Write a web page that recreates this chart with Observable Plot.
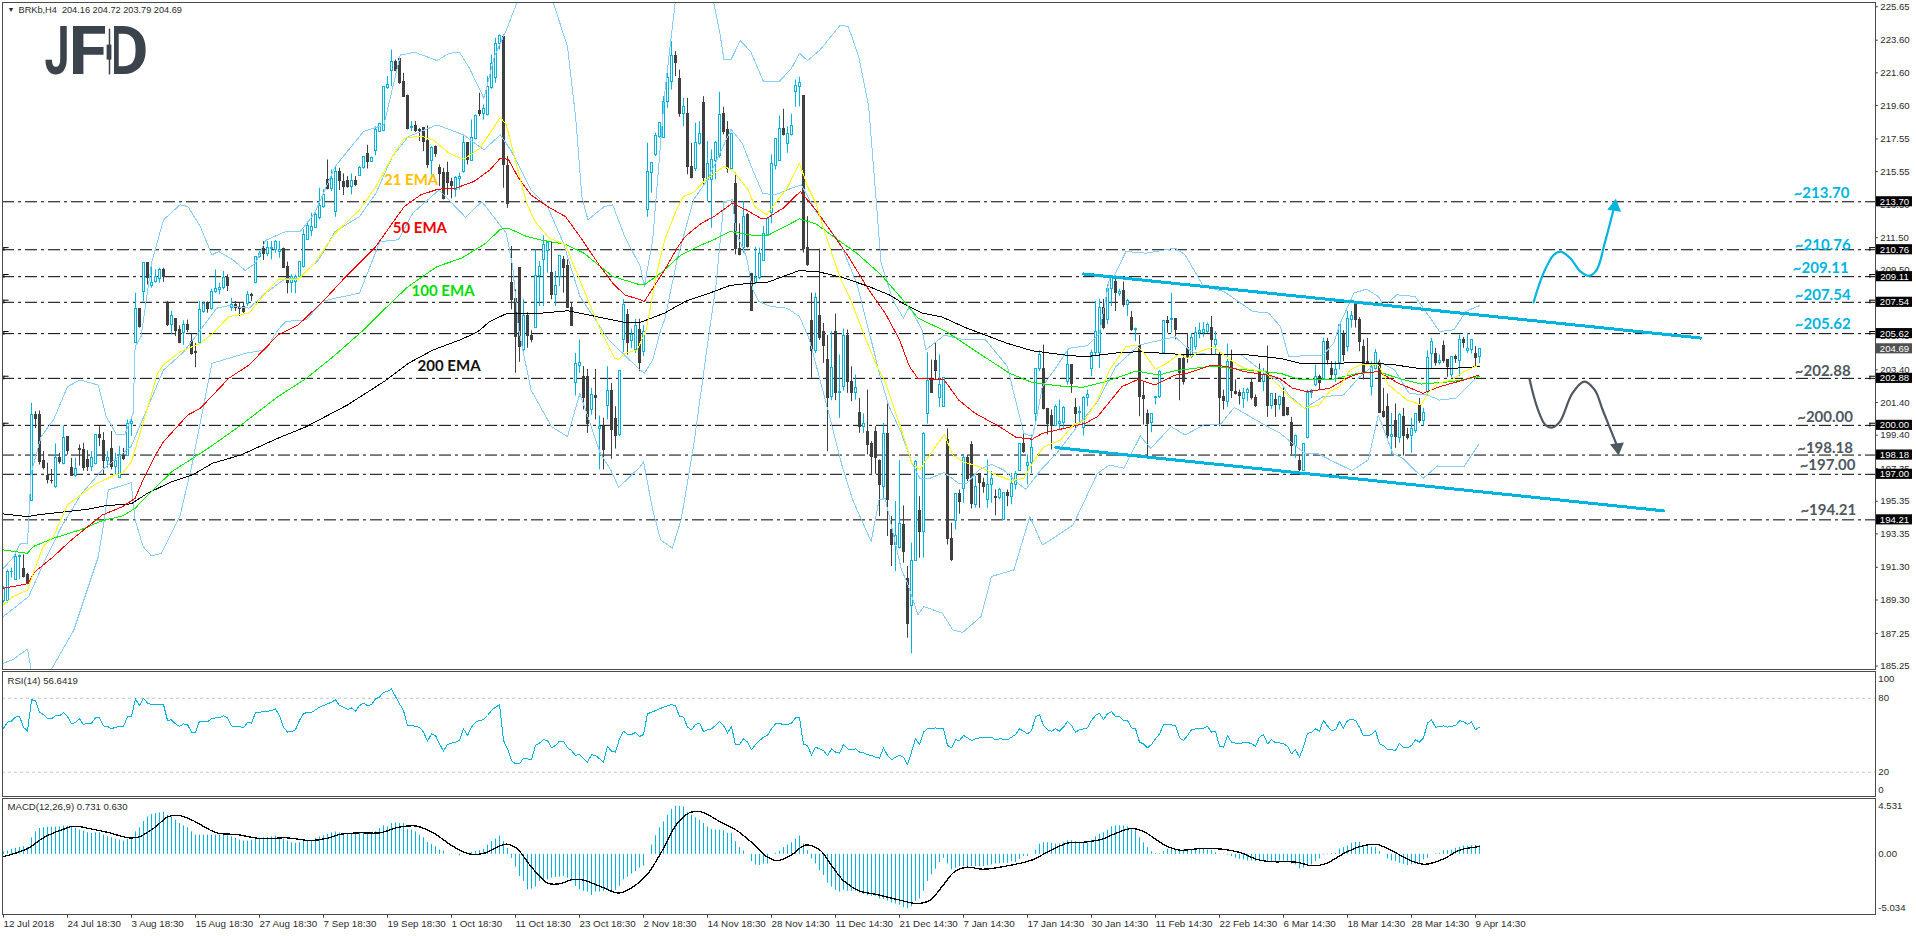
<!DOCTYPE html>
<html><head><meta charset="utf-8">
<script src="https://cdn.jsdelivr.net/npm/d3@7"></script>
<script src="https://cdn.jsdelivr.net/npm/@observablehq/plot@0.6"></script>
<style>html,body{margin:0;background:#fff;overflow:hidden}#main,#rsi,#macd{position:absolute;left:0}#main{top:0}#rsi{top:670px}#macd{top:797px}svg{display:block}</style>
</head><body><div id="main"></div><div id="rsi"></div><div id="macd"></div>
<script>
// candles, each row [open, high, low, close]
const candlesJul=[[189.21,190.13,189.11,190.02],[189.21,191.14,189.11,191.04],[191.0,191.25,190.64,191.04],[190.53,192.27,190.5,191.96],[191.92,192.06,190.53,192.02],[191.2,192.06,190.64,190.7],[190.84,190.94,190.23,190.29],[195.39,201.35,195.33,200.64],[200.62,200.84,199.8,200.37],[200.64,200.88,197.57,197.78],[197.82,198.39,197.27,197.37],[196.9,197.68,196.41,196.66],[196.62,197.3,196.41,196.58],[196.2,198.86,196.14,197.98],[198,198.29,197.62,197.74],[197.62,199.96,197.58,199.21],[199.27,199.27,198.19,198.43],[197.37,197.98,196.92,196.92],[196.92,197.98,196.82,197.31],[198.57,198.8,197.51,198.5],[198.49,198.9,197.2,197.37],[197.88,198.45,197.17,197.43],[197.47,198.39,197.17,197.98],[197.62,199.39,197.58,199.39],[199.39,199.92,198.7,199.21],[199.04,199.55,196.96,197.82],[197.84,198.39,197.37,197.98],[198.53,199.62,197.27,197.43],[197.47,198.29,196.96,197.84],[196.8,198.7,196.76,198.12],[198.12,198.59,197.84,197.92],[198.12,200.33,198.12,200.08],[200.1,200.37,199.31,200.18]];
const candlesAug=[[205.06,208.09,205.02,207.15],[207.11,207.11,205.95,206.05],[208.2,209.93,207.58,209.93],[209.93,209.93,208.6,209.02],[208.55,209.73,208.4,208.74],[208.76,209.53,208.71,209.08],[208.96,209.63,208.71,209.49],[209.49,209.63,208.76,209.08],[207.45,207.59,206.06,206.16],[206.16,206.98,205.55,206.71],[206.51,206.51,205.45,205.79],[205.86,206.1,205.0,205.06],[205.65,206.4,204.9,206.16],[206.16,206.45,205.68,205.86],[205.08,205.6,204.3,204.37],[204.48,205.02,203.53,204.44],[205.06,207.59,205.0,207.04],[206.97,207.55,206.87,207.44],[207.51,207.57,206.87,207.1],[207.1,208.34,207.06,208.16],[208.2,209.53,208.09,208.34],[208.3,208.71,208.0,208.44],[208.4,209.43,208.3,209.02],[209.0,209.22,208.2,208.55],[207.18,207.79,206.98,207.38],[207.38,207.59,206.98,207.18],[207.2,207.49,206.67,207.16],[207.24,207.53,206.77,206.97],[207.45,208.2,207.28,208.0],[208.0,208.1,207.59,207.92],[208.71,210.35,208.67,210.3],[210.3,210.65,210.24,210.49],[210.82,211.26,210.1,210.49],[210.51,211.26,210.35,210.86],[210.8,211.26,210.14,210.86],[210.75,211.32,210.55,211.26],[210.61,211.26,210.24,210.75],[210.82,210.86,209.63,209.67],[209.69,210.0,208.06,208.71],[208.71,209.22,208.1,209.06],[208.76,209.22,208.06,209.06],[209.06,210.04,209.02,210.0],[209.69,211.98,209.63,211.67],[211.37,212.49,211.33,212.24],[211.88,213.0,211.57,212.18],[212.12,213.1,212.08,212.9],[212.69,214.53,212.59,213.45],[213.37,214.43,213.3,214.12]];
const candlesSep=[[215.04,216.26,214.43,214.47],[214.47,215.65,214.32,215.08],[213.1,215.9,212.75,215.51],[215.51,215.75,214.39,214.98],[214.94,215.41,214.08,214.59],[214.98,215.24,214.53,214.63],[214.63,215.41,214.12,214.96],[214.96,215.24,214.63,214.73],[215.3,215.86,215.3,215.75],[215.75,216.47,215.69,216.43],[216.61,217.16,215.71,216.16],[216.16,216.43,216.12,216.37],[216.84,218.3,216.51,218.1],[218.0,218.51,217.96,218.47],[218.06,220.75,218.0,220.71],[220.65,221.37,220.59,220.86],[221.73,223.0,220.75,222.24],[222.24,222.39,221.67,221.73],[222.45,222.45,220.9,221.0],[221.04,221.57,220.1,220.14],[220.2,220.24,218.1,218.16],[218.2,218.61,218.0,218.26],[218.34,218.61,217.94,218.06],[218.1,218.2,217.39,218.02],[218.2,218.2,216.77,217.39],[217.45,218.34,215.75,215.96],[216.22,217.08,215.35,216.98],[217.04,217.12,216.43,216.63],[215.79,215.96,214.63,215.41],[215.49,215.75,213.81,213.86],[215.45,216.12,214.08,214.84],[214.9,215.14,213.88,214.69],[214.43,215.24,213.98,215.14],[215.1,215.45,214.43,215.24],[215.55,217.73,215.45,217.33],[217.33,217.33,215.96,216.26],[216.22,218.71,216.2,217.59],[217.53,219.02,217.49,218.96],[219.26,220.35,218.92,219.08],[219.08,219.63,218.71,219.37],[219.02,221.37,218.96,220.71],[220.65,222.69,220.59,222.12],[221.26,223.71,220.96,223.35],[223.35,223.92,223.0,223.86],[223.82,223.92,214.53,215.96],[215.9,216.47,213.3,213.57]];
const candlesOct=[[208.71,210.96,207.08,207.69],[207.75,208.3,203.19,205.39],[209.63,209.63,203.86,204.78],[204.62,207.69,204.31,206.67],[206.67,206.9,204.72,205.45],[205.45,205.8,205.06,205.23],[205.96,210.75,205.96,209.18],[209.16,210.04,207.28,209.73],[210.14,211.61,207.28,211.06],[210.71,211.26,209.32,211.16],[209.32,211.26,207.69,208.0],[208.0,209.43,207.28,208.51],[209.12,210.35,208.5,210.35],[210.14,210.35,208.1,209.63],[209.77,210.14,207.18,207.18],[207.18,207.49,206.06,206.06],[202.62,204.41,201.8,203.74],[203.66,205.23,203.19,203.8],[202.98,203.6,200.94,201.69],[202.98,203.43,199.51,200.08],[200.94,202.27,200.63,201.86],[201.82,203.43,200.33,201.66],[199.8,200.57,197.27,199.92],[199.88,200.43,197.27,198.49],[201.19,203.59,200.33,202.12],[202.12,202.57,197.92,199.72],[200.37,201.14,198.55,199.35],[199.41,203.33,199.31,203.33],[205.23,207.7,204.45,207.38],[206.77,207.1,204.3,205.02],[205.19,205.9,204.7,205.55],[204.62,206.5,204.4,206.06],[205.84,206.5,203.29,203.8]];
const candlesNov=[[204.51,206.1,204.2,205.74],[213.2,217.28,212.75,215.51],[215.45,216.06,214.22,216.06],[216.57,217.9,216.47,217.73],[217.65,218.51,217.59,218.51],[217.59,220.14,217.59,219.84],[219.84,221.57,219.43,221.26],[221.06,223.51,220.55,222.65],[222.63,222.9,221.37,222.22],[221.22,221.77,218.88,219.08],[219.08,220.04,218.31,219.53],[219.08,220.04,215.35,215.86],[215.82,217.28,215.1,215.18],[215.69,218.51,215.55,217.28],[217.24,218.61,217.18,217.84],[219.73,220.14,214.73,215.18],[215.04,217.39,213.71,216.0],[215.04,216.88,212.08,216.26],[216.22,217.39,215.04,217.28],[216.53,220.41,216.37,219.02],[219.06,219.49,217.8,218.0],[218.1,218.61,215.45,215.69],[215.69,217.9,215.65,217.84],[214.77,215.45,210.45,210.8],[210.8,212.35,210.39,210.41],[210.86,213.71,210.55,212.79],[212.9,213.0,210.86,210.92],[209.28,209.32,206.98,206.98],[208.71,210.92,208.61,209.02],[209.02,210.86,208.92,210.49],[210.1,212.18,210.04,211.71],[211.61,212.69,211.57,212.63],[213.0,216.57,212.35,216.0],[215.92,217.59,215.65,217.55],[216.22,218.96,216.16,218.14],[218.14,219.37,217.73,217.8],[217.24,218.3,216.67,217.84],[217.8,219.06,217.73,218.35],[220.45,221.16,219.49,220.8],[220.75,221.33,219.53,220.96],[220.18,220.18,210.55,210.8],[210.86,212.79,209.73,209.84]];
const candlesDec=[[206.37,208.1,202.88,204.57],[204.57,208.1,204.4,207.79],[206.67,210.8,205.2,205.34],[205.75,206.24,203.8,204.86],[204.0,205.5,198.39,201.69],[201.76,205.74,201.51,203.49],[205.74,206.82,201.51,201.96],[201.96,204.31,200.43,202.06],[202.33,205.9,202.1,205.47],[205.47,205.84,201.96,202.68],[202.68,203.59,201.45,202.0],[202.0,203.08,201.55,202.27],[200.74,201.65,199.51,199.92],[199.92,200.7,199.51,200.06],[199.62,202.16,198.19,198.8],[198.84,199.0,197.0,198.08],[199.57,199.92,197.0,197.98],[197.82,197.88,194.41,196.35],[196.25,200.12,195.43,199.47],[199.47,201.31,193.19,195.43],[193.6,194.41,191.35,192.68],[192.68,195.33,191.04,193.19],[192.47,197.84,192.43,193.96],[193.9,195.06,191.55,192.27],[190.6,191.35,186.96,187.84],[188.94,192.78,186.0,191.7],[191.7,197.84,191.66,197.78],[194.76,195.63,191.86,193.49],[193.49,199.55,191.86,199.47]];
const candlesJan=[[200.68,204.45,200.08,202.74],[202.78,204.0,201.96,202.0],[203.94,205.02,202.78,203.35],[201.65,204.31,201.1,202.47],[201.14,202.92,201.1,202.88],[199.1,199.78,192.67,193.04],[193.04,194.0,191.65,191.76],[194.16,195.8,193.59,195.8],[195.8,196.04,194.55,195.33],[196.08,198.22,195.23,197.98],[198.02,198.19,196.55,196.72],[198.8,199.0,194.88,195.17],[195.13,196.86,194.92,196.25],[197.02,197.06,194.92,196.45],[196.49,196.76,195.84,196.25],[195.43,197.88,194.92,196.35],[196.35,197.17,195.23,196.7],[195.6,196.04,194.45,195.57],[195.53,196.14,195.43,196.04],[194.21,195.88,194.17,195.88],[195.84,196.04,195.02,195.7],[195.63,197.06,195.13,196.41],[196.35,197.17,196.04,197.02],[197.2,198.84,197.17,198.84],[198.84,199.55,198.29,198.39],[197.53,198.19,196.35,197.72],[197.67,199.41,197.06,198.63],[200.7,203.43,200.12,203.43],[203.43,204.57,203.29,204.31],[203.43,204.92,200.94,200.98],[201.0,201.04,199.41,200.06],[200.57,200.94,198.49,199.96],[199.98,201.25,199.92,201.1],[200.08,201.55,199.72,200.19],[200.17,201.14,199.82,201.08],[202.68,204.65,202.47,203.7],[203.7,203.7,201.96,202.53],[201.04,201.65,199.76,200.7],[200.74,201.14,200.0,200.84],[199.82,201.76,199.35,201.7],[201.7,202.16,201.14,201.86]];
const candlesFeb=[[203.45,204.61,202.98,204.41],[204.41,207.6,204.2,205.75],[204.41,207.72,203.49,207.18],[207.18,207.72,205.86,205.96],[206.43,208.61,206.16,208.34],[208.34,209.16,207.28,209.12],[208.76,209.16,206.98,208.1],[208.06,208.34,207.9,208.2],[208.24,208.78,207.24,207.38],[207.38,207.72,206.67,207.59],[206.57,206.98,205.76,205.82],[205.86,205.96,205.13,205.92],[204.86,205.5,200.53,201.76],[201.8,202.67,200.02,201.6],[200.7,200.94,198.08,200.08],[200.12,200.7,199.55,200.68],[201.7,201.76,201.25,201.72],[201.72,203.35,201.65,203.29],[204.41,206.41,204.37,206.37],[206.37,206.67,205.65,206.27],[206.43,208.1,205.65,206.51],[206.51,206.51,205.24,205.86],[204.04,204.1,201.51,203.23],[204.04,204.31,202.47,202.68],[204.72,205.63,203.8,204.1],[204.17,205.63,204.1,205.33],[204.78,206.0,204.6,205.63],[205.68,206.27,205.3,205.8],[205.68,206.3,205.4,205.84],[205.75,206.27,205.63,206.16],[205.96,206.67,204.31,205.23],[204.92,205.74,204.31,205.23],[204.31,204.45,199.92,201.69],[201.76,202.16,200.94,201.49],[201.45,204.98,201.1,203.86],[203.86,204.61,201.65,202.12],[202.02,202.78,201.86,201.92],[201.96,202.16,201.25,201.8],[201.61,202.27,201.04,202.0],[201.96,202.27,201.45,202.16],[202.57,202.88,201.55,201.65],[201.69,201.86,201.1,201.18],[203.19,203.76,202.62,202.68],[202.68,203.49,202.06,203.08],[203.19,204.86,200.49,201.18],[201.18,201.96,200.98,201.92],[201.55,201.96,200.49,201.25],[201.25,201.8,200.94,201.76]];
const candlesMar=[[201.65,202.27,200.53,200.57],[201.04,201.04,200.57,200.63],[200.17,200.49,198.19,198.74],[198.76,199.41,197.98,199.35],[197.82,198.19,197.02,197.27],[197.23,198.9,197.17,198.86],[199.21,202.16,199.17,201.96],[201.96,202.2,201.65,202.12],[202.47,203.7,202.37,202.94],[202.94,203.08,202.12,202.57],[202.82,205.33,202.78,205.08],[205.08,205.33,203.7,204.0],[203.43,203.9,202.88,203.08],[203.08,203.9,202.62,203.39],[203.8,206.16,203.4,206.16],[205.55,205.8,203.9,204.31],[204.78,206.98,204.5,206.51],[206.47,206.98,205.96,206.71],[207.49,207.59,205.96,206.47],[206.47,206.6,204.51,205.13],[204.78,205.23,202.78,203.19],[203.9,205.33,203.7,203.8],[202.37,203.9,201.8,203.59],[203.43,204.65,203.39,204.41],[203.8,204.0,200.74,200.78],[200.8,202.27,200.43,200.49],[201.1,201.92,199.15,199.35],[199.31,200.74,198.12,199.41],[200.27,201.31,198.59,199.27],[199.21,200.74,198.9,200.63],[200.49,201.04,198.12,199.35],[199.41,199.82,199.1,199.21],[199.35,200.43,198.29,199.76],[199.68,200.74,199.51,200.7],[201.19,201.65,200.12,200.29],[200.29,201.04,199.96,200.78],[202.06,204.57,201.96,204.1],[204.37,205.33,203.49,205.08],[204.37,204.72,203.63,203.8],[203.8,204.31,203.7,203.96],[204.88,205.17,203.8,203.96],[204.0,204.04,202.94,203.55],[203.08,204.21,202.94,204.17],[204.17,204.31,203.8,204.06],[203.96,205.53,202.98,205.23],[205.23,205.39,204.72,205.06],[204.53,205.63,204.41,204.66],[204.62,205.23,204.37,205.23],[204.37,204.82,203.59,204.14],[204.16,204.72,203.79,204.69]];

// overlay lines, each vertex [bar, price]
const ema21=[[0,189],[2.3,189.5],[6,189.9],[7.9,191.25],[9.9,192.57],[12.5,193.2],[16,195.13],[22.7,196.35],[27.8,196.96],[29.8,197.06],[32,197.78],[34.4,199.72],[38.5,203.19],[40,203.7],[44.1,204.51],[49.2,205.02],[52.8,205.74],[56.3,206.67],[61.4,206.88],[65.5,208.1],[68.6,208.92],[73.7,208.96],[77.8,209.94],[82.9,211.77],[89,213.2],[93.1,214.63],[97.2,216.47],[100.2,217.59],[104.3,217.73],[107.4,217.49],[111.4,216.67],[115,216.3],[119.1,216.98],[122.7,218.3],[124.2,218.88],[125.7,218.41],[128.8,215.45],[130.8,213.61],[132.9,212.49],[136.4,211.47],[140.5,211.06],[142,210.14],[146.1,207.69],[148.2,206.47],[149.2,205.84],[152.8,204.1],[153.8,204.04],[155.3,204.41],[158.4,204.62],[160.7,205.86],[163.3,209.33],[165.3,211.37],[167.9,213],[169.9,214.02],[172.5,214.27],[175.5,215.04],[180.1,215.86],[182.2,215.65],[186.2,214.43],[187.8,213.41],[190.8,212.9],[192.9,213.61],[195.9,214.53],[199,216.06],[201,214.63],[203.1,213.61],[205.1,211.98],[209.2,209.02],[211.8,207.69],[215.3,205.45],[218.4,203.6],[220.4,202.68],[224.5,199.72],[227.1,197.68],[229.1,197.27],[230.1,197.68],[235.2,199.45],[237.3,198.19],[239.8,197.78],[243.9,197.47],[248,196.96],[252.1,196.62],[255.1,196.76],[257.7,197.88],[260.2,198.7],[264.3,199.1],[267.4,200.02],[270.4,200.33],[273.5,201.55],[276.5,203.39],[280.6,204.82],[283.2,204.92],[285.2,204.41],[288,203.43],[290.8,203.8],[293.9,204.37],[296,204.1],[299,204.51],[302.6,204.82],[306.1,204.1],[310.2,203.49],[315.3,203.29],[319,202.4],[321.3,201.76],[325.3,201.04],[328.9,201.25],[331.5,202.06],[334,202.37],[336.6,203.39],[339.1,203.7],[343.7,203.7],[346.3,202.47],[350.9,201.55],[354.4,201.25],[356,201.96],[358.5,202.57],[362.1,202.78],[365.1,203.29],[368.9,203.7]];
const ema50=[[0,190.02],[6,190.29],[7.9,191.04],[12.5,191.96],[16.5,192.88],[20.1,193.6],[23.2,194.21],[24.7,194.51],[29.8,195.02],[32.9,195.53],[34.9,196.66],[38,198.19],[40,199],[46.1,200.64],[49.2,201.04],[56.3,202.88],[61.4,203.7],[68.6,205.53],[73.7,206.16],[79.8,207.59],[86,209.22],[93.1,210.96],[97.2,212.39],[100.2,213.41],[104.3,214.12],[108.6,214.47],[113,214.53],[117.6,214.94],[121.6,215.65],[124.2,216.37],[126.2,216.3],[128.8,215.14],[131.9,214.12],[136,213.41],[140.5,212.79],[144.1,211.57],[149.2,209.73],[152.3,208.71],[155.3,208],[159.2,207.69],[160.2,207.59],[165.3,209.53],[168.4,210.86],[170.4,211.57],[174.5,212.39],[177.6,212.79],[182.2,213.61],[185.7,213.2],[189.3,212.69],[190.8,212.69],[194.9,213.3],[199.2,214.33],[203.1,213.2],[207.2,211.77],[211.2,210.35],[216.3,208.31],[220.4,206.88],[224,205.24],[226.5,203.6],[228.6,202.88],[235.2,202.78],[238.8,201.55],[242.9,200.74],[249,199.92],[253.1,199.27],[257.2,199.15],[259.7,199.51],[265.3,199.82],[270.4,200.12],[273.5,200.53],[279.6,202.37],[283.7,202.82],[287.8,202.47],[292.9,203.08],[296,203.19],[302.1,203.7],[306.1,203.6],[310.2,203.29],[316.3,203.08],[319,202.88],[322.3,202.27],[325.9,202.06],[331.5,202.27],[336.6,202.98],[339.1,203.19],[343.7,203.29],[348.8,202.57],[354.9,201.96],[359,202.37],[365.1,202.78],[368.9,203.08]];
const ema100=[[0,192.37],[6,192.16],[7.4,192.57],[12.5,193.08],[19.6,193.63],[24.7,194.16],[29.8,194.45],[32.9,194.92],[37,195.94],[42.1,197.17],[48.2,198.12],[51.8,198.7],[59.4,200.02],[68.6,201.76],[75.7,202.88],[82.9,204.31],[90,205.84],[97.2,207.59],[101.2,208.51],[108.4,209.73],[114.5,210.24],[120.6,211.16],[124.2,212.02],[126.2,212.08],[130.8,211.57],[134.9,211.33],[140.5,211.1],[145.1,210.55],[152.3,209.12],[159.2,208.61],[160.2,208.61],[164.3,209.33],[169.4,210.45],[174.5,211.06],[177.6,211.37],[181.6,211.88],[187.8,211.63],[191.3,211.67],[199,212.65],[203.1,212.35],[209.2,211.26],[213.3,210.55],[219.4,209.22],[224.5,207.79],[228.6,206.57],[235.7,205.75],[243.9,204.41],[251.5,203.19],[257.2,202.62],[264.3,202.41],[269.9,202.33],[275.5,202.68],[283.2,203.33],[288.8,203.08],[292.9,203.35],[302.1,203.63],[309.2,203.43],[319.2,203.19],[324.3,202.78],[331.5,202.78],[338.6,203.19],[343.7,203.29],[348.8,202.88],[354.4,202.53],[362.1,202.68],[368.9,202.98]];
const ema200=[[0,194.57],[6,194.41],[8.4,194.51],[14.5,194.68],[21.1,194.86],[25.7,195.08],[31.9,195.19],[36,195.84],[42.1,196.55],[47.2,196.96],[52.3,197.68],[59.4,198.19],[68.6,199.21],[75.7,199.92],[86,201.25],[95.1,202.68],[101.2,203.8],[107.4,204.62],[114.5,205.27],[118.6,205.74],[121.6,206.37],[125.7,206.84],[132.9,206.84],[141,207.02],[146.1,206.77],[155.3,206.31],[159.2,206.31],[165.3,206.88],[170.4,207.59],[176.5,208.1],[181.6,208.57],[186.7,208.71],[190.8,208.75],[199,209.49],[204.1,209.39],[210.2,209.02],[216.3,208.51],[221.4,208],[225.5,207.39],[229.6,206.88],[234.7,206.63],[240.8,205.96],[251,205.02],[257.2,204.57],[265.3,204.31],[270.4,204.2],[278.6,204.45],[283.7,204.51],[292.9,204.37],[302.1,204.31],[309.2,204.37],[319.2,204.1],[324.3,203.8],[331.5,203.8],[338.6,203.84],[346.8,203.74],[353.9,203.49],[362.1,203.49],[368.9,203.6]];
const bandUpper=[[0,191.25],[2.3,191.86],[4.3,192.78],[6,192.78],[6.9,197.06],[9.4,199.31],[12.5,200.33],[16,202.37],[19.1,202.78],[23.7,202.47],[25.7,200.53],[28.3,199.41],[30.3,199.41],[32.4,200.74],[32.9,204.82],[34.4,205.45],[37,209.94],[40,212.59],[44.1,213.51],[46.1,213.41],[49.2,212.18],[52.1,210.45],[53.8,210.65],[57.4,210.14],[60.4,209.49],[63,209.94],[65.5,211.33],[70.6,211.88],[74.2,211.88],[77.8,213],[82.9,215.86],[90,218],[95.1,218.41],[99.2,222.69],[102.8,222.86],[108.4,222.35],[111.4,222.8],[114,222.86],[116.5,221.88],[120.1,220.04],[122.7,222.59],[125.7,224.22],[128.3,225.86],[132.9,227.3],[137.5,225.86],[141,223.2],[143.1,218.71],[144.6,214],[146.1,212.59],[150.2,213.41],[152.3,213.51],[155.3,211.57],[159.2,209.73],[160.2,208.51],[162.3,211.37],[165.3,220.35],[167.9,225.86],[172.5,227.5],[177.6,225.86],[179.1,224.02],[180.1,222.43],[181.9,222.43],[184.2,223.57],[186.8,222.9],[190,221.06],[193.9,221.06],[197,221.88],[199,222.8],[201,222.35],[204.1,223],[209.2,224.53],[211.2,224.43],[213.8,222.59],[216.3,219.53],[217.9,214.63],[219.4,209.94],[222.5,207.59],[225,206.57],[226.5,207.28],[229.6,205.86],[230.6,204.62],[235.2,205.53],[239.8,205.27],[245.4,205.27],[249,204.2],[251,203.6],[252.6,201.96],[255.1,199.51],[257.2,199.31],[258.2,200.33],[259.7,202.37],[263.3,203.6],[266.3,204.72],[270.9,204.88],[274,205.64],[276.5,209.02],[277.6,209.12],[280.6,210.65],[285.7,210.55],[292.9,210.86],[295.4,210.45],[300,208.51],[305.1,208.2],[312.3,206.98],[316.3,206.88],[319.2,206.06],[321.3,204.2],[324.3,204.25],[329.9,204.31],[332.5,205.02],[334,206.16],[337.6,208.1],[340.7,208.35],[343.7,207.9],[345.2,207.28],[348.3,208],[352.9,207.9],[357,206.47],[359,205.75],[362.6,205.86],[365.6,206.98],[368.9,207.33]];
const bandMiddle=[[0,188.29],[6.3,189.51],[10.4,191.76],[14.5,193.8],[19.6,195.84],[24.7,197.27],[31.9,198.7],[40,203.39],[45.1,204.51],[49.2,205.84],[53.3,207.18],[56.3,207.33],[61.4,207.18],[65.5,208.1],[70.6,209.02],[73.7,208.96],[78.8,210.14],[82.9,211.88],[89,212.79],[93.1,214.22],[97.2,216.47],[101.2,217.69],[108.4,218.41],[115,217.8],[120.1,216.88],[124.2,217.8],[126.8,216.88],[131.9,214.43],[136,213.41],[140,211.16],[144.1,207.9],[151.2,205.28],[154.8,204.41],[159.2,203.39],[160.2,203.19],[162.3,204],[164.3,205.84],[165.3,206.47],[168.4,210.14],[172.5,213.82],[176,215.04],[181.9,218.14],[184.7,217.28],[187.3,215.65],[189.8,214.22],[192.9,214.12],[197,214.53],[199.5,214.73],[203.1,213.1],[209.2,211.16],[213.3,208.71],[216.9,205.24],[219.4,202.78],[221.4,201.15],[224.5,199.51],[227.1,197.68],[229.1,196.76],[231.6,196.76],[235.2,197.11],[238.8,196.45],[240.8,196.45],[243.9,197.27],[247,197.62],[250,197.27],[254.1,196.35],[255.6,196.08],[259.7,197.37],[263.3,198.29],[268.4,199.92],[273.5,201.45],[278.1,203.6],[283.9,204.92],[292.9,205.43],[297,204.51],[302.1,204.31],[309.2,204.37],[315.3,203.19],[319.2,202.68],[321.3,201.86],[325.3,201.04],[329.9,201.76],[335,201.86],[339.1,202.98],[343.7,203.9],[347.8,203.39],[351.4,201.96],[356,201.86],[359,201.55],[363.1,201.66],[368.9,203.08]];
const bandLower=[[0,185.43],[2.3,185.64],[6,186.29],[6.9,185.06],[9.4,184.2],[12,185.06],[17.6,187.47],[23.7,191.96],[25.2,194.21],[26.2,196.04],[31.9,196.49],[32.9,194.21],[34.9,192.57],[37,192],[39.5,192.16],[44.1,194.41],[47.2,197.68],[52.1,203.8],[60.4,204.41],[65.5,204.62],[68.6,205.84],[70.6,206.37],[75.7,206.47],[79.8,207.59],[81.8,207.73],[89,208.1],[94.1,211.26],[98.7,211.37],[102.3,213],[108.9,214.43],[115.5,212.75],[119.6,213.71],[125.7,211.77],[127.3,209.73],[128.8,205.84],[131.9,202.16],[137,199.92],[141,199.31],[144.1,201.96],[149.2,198.29],[151.8,197.27],[153.8,196.2],[159.2,197.47],[160,197.78],[162.3,194.82],[164.3,192.98],[167.2,192.47],[169.4,194.21],[172.5,198.7],[176.5,205.84],[178.1,208.51],[180.1,213.71],[182.2,213.82],[183.2,211.77],[185.7,210.35],[187.3,208.31],[188.8,207.59],[191.9,207.28],[195.9,207.18],[199,206.67],[201.5,205.24],[206.1,200.94],[209.7,197.47],[212.3,195.43],[216.9,192.88],[218.9,195.43],[220.4,195.53],[224.5,191.14],[226,190.33],[228.6,188.39],[230.1,188.9],[234.7,188.49],[237.3,187.47],[239.8,187.31],[244.4,188.29],[247,190.74],[252.6,191.14],[256.6,194.41],[259.7,192.67],[261.8,192.98],[267.4,193.9],[273.5,197.06],[276.5,197.57],[280.1,197.37],[284.2,199.35],[286.8,198.59],[291.9,199.92],[295.4,199.41],[300.5,200.08],[304.1,200.02],[307.7,201.1],[315.3,200.02],[319.2,199.51],[325.3,198.29],[328.4,198.29],[332.5,197.78],[337.1,197.23],[341.2,197.88],[343.7,200.63],[347.3,198.29],[349.8,197.98],[354.9,196.76],[358.5,197.51],[365.1,197.47],[368.9,198.86]];
const channelUpper=[[269.9,209.28],[424.3,205.35]];
const channelLower=[[263.1,198.64],[415.1,194.76]];
const pathUp=[[382.5,207.53],[385,209.33],[387.6,210.45],[389.3,210.65],[391.7,210.24],[394.2,209.43],[396.3,209.16],[398.3,209.53],[400.3,211.16],[402.6,213.3]];
const pathDown=[[381.5,202.82],[383.5,201.04],[385.5,200.02],[387.1,199.86],[389.1,200.23],[392.2,201.96],[395.2,202.68],[397.8,202.17],[399.8,200.94],[403.3,198.8]];

const levels=[213.70,210.76,209.11,207.54,205.62,202.88,200.00,198.18,197.00,194.21];
const hookLevels=[210.76,209.11,207.54,205.62,202.88,200.00];
const levelLabelY=[214.25,211.05,209.64,207.98,206.22,203.33,200.51,198.6,197.55,194.8];
const levelLabelBar=[454.5,454.8,454.3,454.8,454.8,454.8,455.4,455.4,456,456.2];
const priceTicks=["225.65","223.60","221.60","219.60","217.55","215.55","213.50","211.50","209.50","207.45","205.45","203.40","201.40","199.40","197.35","195.35","193.35","191.30","189.30","187.25","185.25"];
const lastPrice=204.69;
const emaNotes=["21 EMA","50 EMA","100 EMA","200 EMA"];
const emaNoteBar=[101.9,104.1,109.9,111.4];
const emaNoteY=[215.03,212.09,208.23,203.64];
const emaNoteColor=["#ffc000","#ee0000","#00dd00","#111111"];

// RSI(14), one value per bar
const rsiA=[55.7,60.6,61.4,64.7,65.2,56.5,53.3,78.7,78.2,68.7,66.8,63.3,63.3,65.7,65.7,68.2,65.2,59.2,60.3,63.3,58.7,59.8,59.8,64.1,64.1,57.6,57.1,55.2,56.5,57.1,57.1,65.2,65.2,79.5,74.1,80.1,76,74.9,75.2,75.2,74.9,62,62.5,59.2,57.1,59.2,58.7,52.5,52.5,61.4,61.4,60.9,63.3,64.1,64.1,65.7,64.1,57.6,57.1,57.1,56,60.3,59.8,68.4,68.7,69.2,69.5,70,71.4,66,56.5,52.5,53,54.4,62,67.4,68.7,68.4,70.6,72.8,74.1,75.5,76.8,78.7,74.1,72.8,70.9,72.2,69.5,74.1,76,74.1,74.7,79.5,80.9,84.9,85.5,87.6,81.4,75.5,70,57.9,57.9,57.1,56.5,52.5,45.2,51.1,49.8,43,37.1,42.5,43.6,44.4,45.7,55.2,49.8,56.5,60.6,62,62.5,66,70,72.8,74.7,45.7,39,29.5,26.8,26.8,31.4,30.9,30.1,41.7,43.6,46.3,45.7,39.8,41.7,45.2,45.2,39.8,37.6,33.6,34.4,30.9,28.2,34.1,33.6,30.9,28.2,40.9,37.1,36.3,47.1,53.3,50.6,50.6,52.2,49];
const rsiB=[50.6,67.4,68.7,70,71.4,72.8,73.8,74.9,74.1,65.2,64.7,56.5,54.4,58.7,59.8,53,54.4,55.2,57.9,60.9,57.9,51.7,57.1,42.2,42.2,47.1,44.4,38.2,42.5,45.7,48.4,49.8,55.2,59.2,59.5,58.7,58.7,59.8,64.1,64.1,42.5,41.7,33.8,40.3,39,37.6,33.3,39,36.3,35.5,42.5,39,38.2,39,36.3,35.7,34.1,33.6,32.2,31.4,39.8,33.6,30.1,32.2,33.6,32.2,26,36.3,47.1,42.5,52.5,55.2,55.2,56,55.2,55.2,41.7,39.8,46.3,45.7,49.8,47.9,45.7,47.1,47.9,47.9,47.9,48.4,46.3,47.1,46.8,46.3,48.4,50.6,55.2,53.3,51.1,53.8,64.7,66.8,57.9,54.4,53.3,55.2,53.3,56.5,61.4,57.9,52.5,54.4,55.2,56,62,66,67.9,62.5,67.4,69.2,65.2,65.2,62,62,56,55.2,44.4,43,39.8,42.5,47.1,51.1,58.4,58.4,58.4,57.9,47.9,45.7,49.8,54.4,55.2,55.2,55.7,57.1,52.5,53.3,41.1,40.3,49.8,44.4,43.6,43,44.1,44.4,43,41.1,48.4,50.6,43,46.3,43.8,43.8];
const rsiC=[43,41.1,34.9,38.2,32.2,40.3,51.7,52,55.2,53.3,62,57.4,53.8,54.4,61.1,55.7,62,62.8,62,56.5,49.5,49.5,50.6,53.8,43,41.7,38.2,38.2,37.6,43.6,39.8,39.8,41.7,46.3,44.4,47.6,59.8,62.5,56.5,57.1,57.6,56.5,57.4,57.6,61.7,61.1,58.7,60.9,54.4,56.64];
const rsiTicks=["100","80","20","0"];
const rsiTickY=[96,80,20,6];

// MACD histogram, one value per bar
const macdA=[.19,.27,.41,.49,.57,.63,.57,1.36,1.85,2.13,2.18,2.23,2.23,2.23,2.26,2.32,2.32,2.26,2.13,1.99,1.91,1.77,1.72,1.77,1.77,1.58,1.44,1.36,1.25,1.17,1.09,1.23,1.31,1.85,2.18,2.7,3.08,3.27,3.35,3.41,3.46,3.22,3.08,2.81,2.53,2.34,2.18,1.85,1.58,1.58,1.58,1.58,1.58,1.58,1.58,1.55,1.5,1.44,1.31,1.17,1.09,1.09,1.17,1.25,1.31,1.36,1.39,1.44,1.5,1.36,1.25,1.09,.95,.9,.95,1.09,1.14,1.14,1.31,1.44,1.53,1.64,1.77,1.83,1.77,1.72,1.66,1.72,1.77,1.8,1.72,1.66,1.66,1.85,2.13,2.34,2.26,2.53,2.59,2.53,2.53,2.04,1.99,1.85,1.58,1.36,.98,.82,.63,.35,.27,0,.05,.03,-.14,-.03,.08,.14,.22,.3,.41,.76,1.04,1.25,1.5,1.04,.49,-.33,-1.06,-1.83,-2.23,-2.92,-2.86,-2.7,-2.23,-2.18,-2.1,-1.96,-1.91,-1.88,-1.83,-1.96,-2.23,-2.64,-2.92,-3.05,-3.13,-3.38,-3.11,-3.11,-3.05,-2.92,-3.05,-2.97,-2.64,-2.1,-1.88,-1.64,-1.42,-1.14];
const macdB=[-.95,0,.76,1.53,2.18,2.67,3.22,3.71,3.95,3.95,3.9,3.43,3.22,3,2.81,2.53,2.26,2.04,1.99,1.99,1.93,1.72,1.72,1.04,.55,.27,0,-.6,-.87,-.93,-.82,-.79,0,.08,.27,.55,.76,.95,1.25,1.5,.84,.3,-.38,-.79,-1.34,-1.74,-2.37,-2.7,-2.97,-3.11,-2.97,-3.05,-3.05,-3.05,-3.19,-3.32,-3.41,-3.46,-3.46,-3.68,-3.73,-3.87,-4.01,-4.09,-4.2,-4.41,-4.47,-4.33,-3.87,-3.68,-3.05,-2.23,-1.69,-1.23,-.68,-.33,-.79,-1.28,-1.14,-1.01,-1.01,-1.06,-1.01,-1.01,-1.01,-1.01,-.93,-.87,-.79,-.79,-.74,-.74,-.6,-.68,-.41,-.19,-.19,0,.35,.84,.95,.95,.9,.84,.84,.95,1.12,1.12,1.04,.98,.95,.95,1.17,1.44,1.66,1.77,1.99,2.26,2.34,2.34,2.34,2.26,2.04,1.93,1.36,.95,.55,.22,.05,.03,.22,.41,.41,.35,.3,.35,.3,.35,.41,.49,.49,.35,.3,.14,.03,.03,-.05,-.19,-.33,-.41,-.46,-.55,-.55,-.6,-.6,-.6,-.6,-.6,-.6,-.55];
const macdC=[-.55,-.6,-.79,-.87,-1.2,-1.14,-.87,-.87,-.6,-.38,-.05,.03,.05,.08,.44,.55,.68,.9,.98,.98,.63,.63,.57,.55,.22,0,-.38,-.55,-.6,-.74,-.82,-.93,-.87,-.82,-.79,-.46,-.33,0,.03,.08,.27,.3,.35,.49,.57,.68,.68,.71,.74,.731];
const signalLine=[[0,-.19],[5.8,.44],[10.4,1.44],[15.5,2.13],[17.6,2.32],[22.2,2.07],[26.2,1.8],[31.3,1.36],[33.9,1.44],[38,2.26],[41,3.08],[43.6,3.22],[47.2,2.81],[53.3,1.77],[58.4,1.63],[64.5,1.28],[70.6,1.36],[76.8,1.14],[80.8,1.31],[83.9,1.63],[89,1.77],[94.1,1.77],[99.2,2.26],[103.3,2.32],[107.4,1.77],[112.5,.63],[116.5,.03],[120.1,.08],[125.7,.84],[128.3,.49],[131.9,-1.01],[136,-2.37],[139,-2.43],[142,-2.1],[144.6,-2.1],[149.2,-2.64],[153.8,-3.19],[156.9,-2.78],[159.2,-2.23],[161.2,-1.55],[164.3,.08],[168.4,2.53],[171.4,3.41],[174.5,3.49],[179.6,2.59],[183.2,1.99],[187.3,.9],[190.8,-.19],[193.4,-.52],[197,-.05],[200.5,.76],[204.1,.35],[207.2,-1.01],[210.2,-2.23],[214.3,-3.05],[218.4,-3.32],[223.5,-3.73],[228.6,-4.06],[231.6,-3.79],[234.7,-2.64],[237.8,-1.42],[240.8,-1.06],[244.9,-1.23],[251,-.95],[257.2,-.46],[261.2,.22],[266.3,.95],[270.4,1.01],[274.5,1.23],[278.6,1.8],[282.2,2.13],[285.2,1.85],[290.3,.76],[293.9,.35],[300,.49],[305.1,.41],[309.2,.14],[313.3,-.41],[316.3,-.6],[323.3,-.65],[326.9,-.93],[330.4,-.79],[335.5,.14],[339.1,.63],[343.2,.82],[346.8,.35],[351.9,-.54],[355.4,-.82],[360,-.38],[364.1,.35],[368.9,.63]];
const macdTicks=["4.531","0.00","-5.034"];
const macdTickY=[3.96,0,-4.42];
const dateLabels=["12 Jul 2018","24 Jul 18:30","3 Aug 18:30","15 Aug 18:30","27 Aug 18:30","7 Sep 18:30","19 Sep 18:30","1 Oct 18:30","11 Oct 18:30","23 Oct 18:30","2 Nov 18:30","14 Nov 18:30","28 Nov 14:30","11 Dec 14:30","21 Dec 14:30","7 Jan 14:30","17 Jan 14:30","30 Jan 14:30","11 Feb 14:30","22 Feb 14:30","6 Mar 14:30","18 Mar 14:30","28 Mar 14:30","9 Apr 14:30"];
const dateStep=16;

const CYAN="#00b4e0", DARK="#404040", BAND="#87cefa", FRAME="#4a4a4a", INK="#2a2a2a", SLATE="#4f5861", LOGO="#3b434c";
const SMALL={fontFamily:"Liberation Sans, Arial, sans-serif",fontSize:9.6};
const NOTE={fontFamily:"Lato, sans-serif",fontWeight:700,fontSize:15};
const XMAX=468, AXX=468.7, TAGL=468.25, TAGR=477.25;
const CRISP={shapeRendering:"crispEdges"};

const bars=[...candlesJul,...candlesAug,...candlesSep,...candlesOct,...candlesNov,...candlesDec,...candlesJan,...candlesFeb,...candlesMar]
  .map(([o,h,l,c],i)=>({i,o,h:Math.max(h,o,c),l:Math.min(l,o,c),c}));
const upBars=bars.filter(d=>d.c>=d.o), downBars=bars.filter(d=>d.c<d.o);
const line=(data,stroke,extra={})=>Plot.line(data,{x:d=>d[0],y:d=>d[1],stroke,strokeWidth:1,clip:true,...CRISP,...extra});
const logoText=(t,dx,cls)=>Plot.text([t],{frameAnchor:"top-left",dx,dy:25,lineAnchor:"top",textAnchor:"start",fill:LOGO,fontFamily:"Roboto, sans-serif",fontWeight:700,fontSize:66,className:cls});

const mainPlot=Plot.plot({
  width:1916,height:670,marginTop:2,marginBottom:1,marginLeft:2,marginRight:41,
  x:{domain:[-.25,XMAX],axis:null},y:{domain:[185.04,225.91],axis:null},
  marks:[
    Plot.ruleY(levels,{x1:-.25,x2:XMAX,stroke:"#000",strokeWidth:1,strokeDasharray:"12,4,3,4"}),
    Plot.ruleX(hookLevels,{x:0.1,y1:d=>d+.13,y2:d=>d-.1,stroke:"#000"}),
    Plot.ruleY(hookLevels,{y:d=>d+.13,x1:0.1,x2:1.4,stroke:"#000"}),
    Plot.ruleX(hookLevels,{x:XMAX-1.4,y1:d=>d+.13,y2:d=>d-.1,stroke:"#000"}),
    Plot.ruleY(hookLevels,{y:d=>d+.13,x1:XMAX-1.4,x2:XMAX,stroke:"#000"}),
    Plot.ruleX(upBars,{x:"i",y1:"l",y2:"h",stroke:CYAN}),
    Plot.ruleX(downBars,{x:"i",y1:"l",y2:"h",stroke:DARK}),
    Plot.rect(upBars,{x1:d=>d.i-.25,x2:d=>d.i+.25,y1:d=>d.o,y2:d=>d.c,fill:"#fff",stroke:CYAN,dx:.5,...CRISP}),
    Plot.rect(downBars,{x1:d=>d.i-.25,x2:d=>d.i+.25,y1:d=>d.o,y2:d=>d.c,fill:DARK,stroke:DARK,dx:.5,...CRISP}),
    line(bandUpper,BAND),line(bandMiddle,BAND),line(bandLower,BAND),
    line(ema200,"#000"),line(ema100,"#00f000"),line(ema50,"#ff0000"),line(ema21,"#ffff00"),
    line(channelUpper,CYAN,{strokeWidth:3}),line(channelLower,CYAN,{strokeWidth:3}),
    line(pathUp,CYAN,{strokeWidth:2.2,curve:"catmull-rom",shapeRendering:"auto"}),
    line(pathDown,SLATE,{strokeWidth:2.2,curve:"catmull-rom",shapeRendering:"auto"}),
    Plot.dot([pathUp.at(-1)],{x:d=>d[0]+.2,y:d=>d[1]+.1,symbol:"triangle",r:5.2,fill:CYAN,rotate:8}),
    Plot.dot([pathDown.at(-1)],{x:d=>d[0]+.2,y:d=>d[1]-.15,symbol:"triangle",r:5.2,fill:SLATE,rotate:172}),
    Plot.text(emaNotes,{x:(d,i)=>emaNoteBar[i],y:(d,i)=>emaNoteY[i],text:d=>d,fill:(d,i)=>emaNoteColor[i],...NOTE}),
    Plot.text(levels.slice(0,5),{x:(d,i)=>levelLabelBar[i],y:(d,i)=>levelLabelY[i],text:d=>"~"+d.toFixed(2),fill:CYAN,...NOTE}),
    Plot.text(levels.slice(5),{x:(d,i)=>levelLabelBar[i+5],y:(d,i)=>levelLabelY[i+5],text:d=>"~"+d.toFixed(2),fill:SLATE,...NOTE}),
    Plot.ruleY(priceTicks,{y:d=>+d,x1:XMAX,x2:AXX,stroke:"#333"}),
    Plot.text(priceTicks,{x:AXX+.5,y:d=>+d,text:d=>d,textAnchor:"start",fill:INK,...SMALL}),
    Plot.rect(levels,{x1:TAGL,x2:TAGR,y1:d=>d-.31,y2:d=>d+.31,fill:"#000"}),
    Plot.rect([lastPrice],{x1:TAGL,x2:TAGR,y1:d=>d-.31,y2:d=>d+.31,fill:"#505050"}),
    Plot.text([...levels,lastPrice],{x:(TAGL+TAGR)/2,y:d=>d,text:d=>d.toFixed(2),fill:"#fff",...SMALL}),
    logoText("J",42,"logo-j"),logoText("F",66,"logo-f"),logoText("D",102,"logo-d"),
    Plot.rect([0],{x1:25.5,x2:27.75,y1:221.1,y2:224.7,fill:"#fff"}),
    Plot.ruleX([26.5],{y1:221.47,y2:224.28,stroke:LOGO,strokeWidth:1.5}),
    Plot.rect([0],{x1:25.9,x2:27.1,y1:222.38,y2:223.3,fill:LOGO}),
    Plot.text(["\u25BC"],{frameAnchor:"top-left",dx:5,dy:5,lineAnchor:"top",textAnchor:"start",fill:INK,fontSize:7}),
    Plot.text(["BRKb,H4\u00A0\u00A0204.16 204.72 203.79 204.69"],{frameAnchor:"top-left",dx:16,dy:4,lineAnchor:"top",textAnchor:"start",fill:INK,fontFamily:SMALL.fontFamily,fontSize:9.2}),
    Plot.frame({stroke:FRAME})
  ]});
[[".logo-j",25],[".logo-f",39],[".logo-d",44]].forEach(([cls,len])=>
  d3.select(mainPlot).selectAll(cls+" text").attr("textLength",len).attr("lengthAdjust","spacingAndGlyphs"));
document.getElementById("main").append(mainPlot);

const rsiData=[...rsiA,...rsiB,...rsiC].map((v,i)=>[i,v]);
const rsiPlot=Plot.plot({
  width:1916,height:127,marginTop:1,marginBottom:1,marginLeft:2,marginRight:41,
  x:{domain:[-.25,XMAX],axis:null},y:{domain:[.3,101.7],axis:null},
  marks:[
    Plot.ruleY([80,20],{x1:-.25,x2:XMAX,stroke:"#c4c4c4",strokeDasharray:"3,3"}),
    line(rsiData,CYAN),
    Plot.text(rsiTicks,{x:AXX,y:(d,i)=>rsiTickY[i],text:d=>d,textAnchor:"start",fill:INK,...SMALL}),
    Plot.text(["RSI(14) 56.6419"],{frameAnchor:"top-left",dx:5,dy:6,lineAnchor:"top",textAnchor:"start",fill:INK,...SMALL}),
    Plot.frame({stroke:FRAME})
  ]});
document.getElementById("rsi").append(rsiPlot);

const macdData=[...macdA,...macdB,...macdC].map((v,i)=>[i,v]);
const macdPlot=Plot.plot({
  width:1916,height:139,marginTop:1,marginBottom:22,marginLeft:2,marginRight:41,
  x:{domain:[-.25,XMAX],axis:null},y:{domain:[-4.96,4.6],axis:null},
  marks:[
    Plot.ruleX(macdData,{x:d=>d[0],y1:0,y2:d=>d[1],stroke:CYAN}),
    line(signalLine,"#000",{strokeWidth:1.3,curve:"catmull-rom"}),
    Plot.text(macdTicks,{x:AXX,y:(d,i)=>macdTickY[i],text:d=>d,textAnchor:"start",fill:INK,...SMALL}),
    Plot.ruleX(dateLabels,{x:(d,i)=>i*dateStep,y1:-4.96,y2:-5.25,stroke:"#333"}),
    Plot.text(dateLabels,{x:(d,i)=>i*dateStep,y:-5.7,text:d=>d,textAnchor:"start",fill:INK,fontFamily:SMALL.fontFamily,fontSize:9.8}),
    Plot.text(["MACD(12,26,9) 0.731 0.630"],{frameAnchor:"top-left",dx:5,dy:5,lineAnchor:"top",textAnchor:"start",fill:INK,...SMALL}),
    Plot.frame({stroke:FRAME})
  ]});
document.getElementById("macd").append(macdPlot);
</script></body></html>
